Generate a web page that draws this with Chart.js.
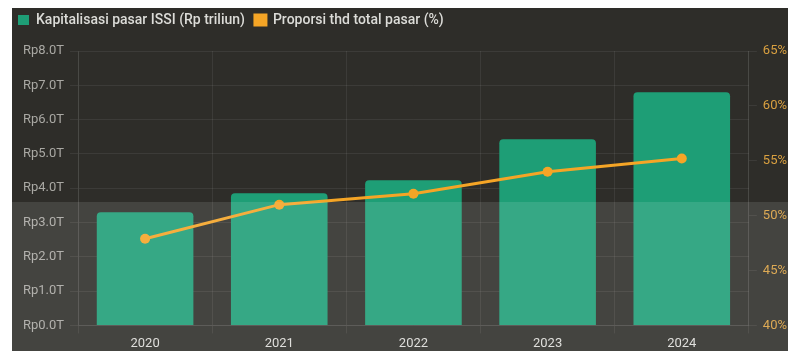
<!DOCTYPE html>
<html>
<head>
<meta charset="utf-8">
<script src="https://cdn.jsdelivr.net/npm/chart.js@4"></script>
<style>
  html, body { margin: 0; padding: 0; background: #fff; overflow: hidden; width: 788px; height: 351px; }
  #bg { position: absolute; left: 12px; top: 8px; width: 776px; height: 343px; background: #2e2d29; }
  #wrap { position: absolute; left: 8px; top: 3px; width: 785px; height: 352px; }
</style>
</head>
<body>
<div id="bg"></div>
<div id="wrap"><canvas id="chart"></canvas></div>
<script>
const years = ['2020', '2021', '2022', '2023', '2024'];
const capitalization = [3.30, 3.85, 4.23, 5.43, 6.80];
const proportion = [47.9, 51.0, 52.0, 54.0, 55.2];

const barColor = '#1e9e76';
const lineColor = '#f5a526';

// lighter band over the lower part of the picture
const bandPlugin = {
  id: 'band',
  afterDraw(chart) {
    const { ctx, width, height } = chart;
    ctx.save();
    ctx.fillStyle = 'rgba(255,255,255,0.11)';
    ctx.fillRect(4, 199, width - 4, height - 199);
    ctx.restore();
  }
};

// extra room between the legend and the plot
const legendGap = {
  id: 'legendGap',
  beforeInit(chart) {
    const fit = chart.legend.fit;
    chart.legend.fit = function () {
      fit.bind(chart.legend)();
      this.height += 14;
    };
  }
};

new Chart(document.getElementById('chart'), {
  data: {
    labels: years,
    datasets: [
      {
        type: 'bar',
        label: 'Kapitalisasi pasar ISSI (Rp triliun)',
        data: capitalization,
        backgroundColor: barColor,
        borderRadius: 4,
        yAxisID: 'y',
        order: 1
      },
      {
        type: 'line',
        label: 'Proporsi thd total pasar (%)',
        data: proportion,
        borderColor: lineColor,
        backgroundColor: lineColor,
        borderWidth: 3,
        pointRadius: 5,
        pointBackgroundColor: lineColor,
        pointBorderWidth: 0,
        tension: 0,
        yAxisID: 'y1',
        order: 0
      }
    ]
  },
  options: {
    responsive: true,
    maintainAspectRatio: false,
    animation: false,
    layout: { padding: 0 },
    plugins: {
      legend: {
        position: 'top',
        align: 'start',
        labels: {
          boxWidth: 11,
          boxHeight: 10,
          padding: 10,
          color: '#dcdcd8',
          font: { family: 'Roboto', size: 14, weight: '500' },
          sort: (a, b) => a.datasetIndex - b.datasetIndex
        }
      },
      tooltip: { enabled: false }
    },
    scales: {
      x: {
        grid: { color: 'rgba(255,255,255,0.07)', offset: true },
        border: { color: 'rgba(255,255,255,0.07)' },
        ticks: { color: '#dcdcd8', font: { family: 'Roboto', size: 13 } }
      },
      y: {
        position: 'left',
        min: 0,
        max: 8,
        afterFit: s => { s.width = 70; },
        ticks: {
          stepSize: 1,
          padding: 6,
          color: '#a9a8a3',
          font: { family: 'Roboto', size: 13 },
          callback: v => 'Rp' + v.toFixed(1) + 'T'
        },
        grid: { color: 'rgba(255,255,255,0.07)' },
        border: { color: 'rgba(255,255,255,0.07)' }
      },
      y1: {
        position: 'right',
        min: 40,
        max: 65,
        ticks: {
          stepSize: 5,
          padding: 6,
          color: '#d9a040',
          font: { family: 'Roboto', size: 13 },
          callback: v => v + '%'
        },
        grid: { drawOnChartArea: false, color: 'rgba(255,255,255,0.07)' },
        border: { color: 'rgba(255,255,255,0.07)' }
      }
    }
  },
  plugins: [bandPlugin, legendGap]
});
</script>
</body>
</html>
